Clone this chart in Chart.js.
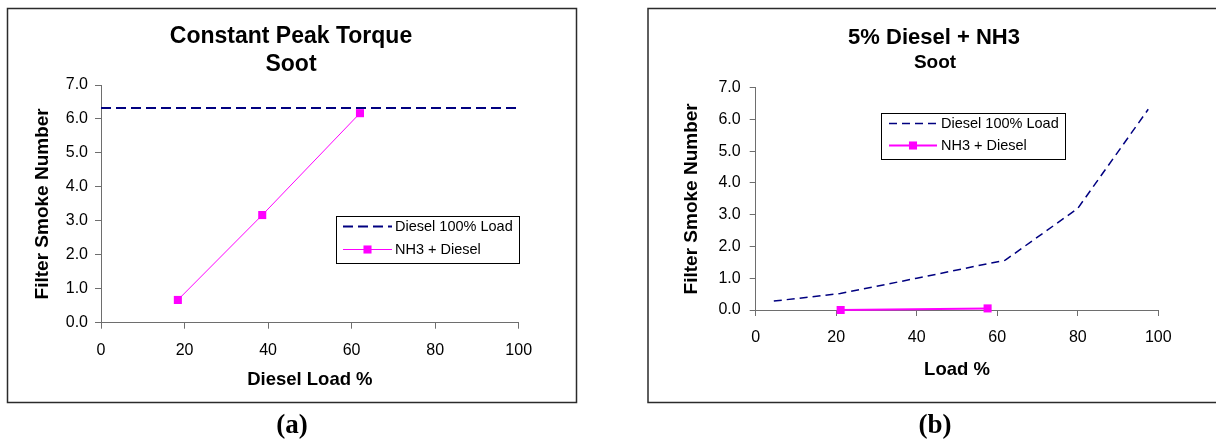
<!DOCTYPE html>
<html>
<head>
<meta charset="utf-8">
<script src="https://cdn.jsdelivr.net/npm/chart.js@4/dist/chart.umd.min.js"></script>
<style>
  html, body { margin: 0; padding: 0; background: #fff; }
  #wrap { position: relative; width: 1216px; height: 442px; overflow: hidden; background: #fff; }
  canvas { position: absolute; top: 0; }
  #cA { left: 0; }
  #cB { left: 600px; }
  .tag { position: absolute; width: 100px; text-align: center; top: 409px; line-height: 30px;
         font: bold 27px "Liberation Serif", "Times New Roman", serif; color: #000; }
</style>
</head>
<body>
<div id="wrap">
  <canvas id="cA" width="600" height="442"></canvas>
  <canvas id="cB" width="616" height="442"></canvas>
  <div class="tag" style="left:242px">(a)</div>
  <div class="tag" style="left:885px">(b)</div>
</div>
<script>
// ---- data ----
const seriesNames = ['Diesel 100% Load', 'NH3 + Diesel'];

// (a) constant peak torque
const dieselRefLoadA = [0, 100];
const dieselRefSootA = [6.32, 6.32];
const nh3LoadA = [18.4, 38.6, 62.0];
const nh3SootA = [0.67, 3.17, 6.17];

// (b) 5% diesel + NH3
const dieselLoadB = [4.5, 21, 40, 62, 80, 97.5];
const dieselSootB = [0.28, 0.52, 1.0, 1.57, 3.2, 6.32];
const nh3LoadB = [21.1, 57.6];
const nh3SootB = [0.0, 0.05];

// axis ticks
const xTicks = [0, 20, 40, 60, 80, 100];
const yTicks = [0, 1, 2, 3, 4, 5, 6, 7];

const FONT = '"Liberation Sans", Arial, Helvetica, sans-serif';
const AXIS = '#6e6e6e';
const NAVY = '#000080';
const MAGENTA = '#FF00FF';

const pts = (xs, ys) => xs.map((x, i) => ({ x, y: ys[i] }));

// frame, titles and boxed legend for each panel
const panelDecor = {
  id: 'panelDecor',
  beforeDraw(chart, args, o) {
    const ctx = chart.ctx;
    ctx.save();
    ctx.fillStyle = '#fff';
    ctx.fillRect(0, 0, chart.width, chart.height);
    ctx.strokeStyle = '#2b2b2b';
    ctx.lineWidth = 1.5;
    ctx.strokeRect(o.frame[0], o.frame[1], o.frame[2], o.frame[3]);
    ctx.fillStyle = '#000';
    ctx.textAlign = 'center';
    ctx.textBaseline = 'alphabetic';
    o.title.forEach(t => {
      ctx.font = `bold ${t.size}px ${FONT}`;
      ctx.fillText(t.text, t.x, t.y);
    });
    ctx.restore();
  },
  afterDraw(chart, args, o) {
    const ctx = chart.ctx;
    const L = o.legend;
    ctx.save();
    ctx.fillStyle = '#fff';
    ctx.fillRect(L.x, L.y, L.w, L.h);
    ctx.strokeStyle = '#000';
    ctx.lineWidth = 1;
    ctx.strokeRect(L.x + 0.5, L.y + 0.5, L.w, L.h);
    chart.data.datasets.forEach((ds, i) => {
      const cy = L.y + L.rows[i];
      const x0 = L.x + L.lineX0, x1 = L.x + L.lineX1;
      ctx.save();
      ctx.strokeStyle = ds.borderColor;
      ctx.lineWidth = ds.borderWidth;
      ctx.setLineDash(ds.borderDash || []);
      ctx.beginPath();
      ctx.moveTo(x0, cy);
      ctx.lineTo(x1, cy);
      ctx.stroke();
      ctx.restore();
      if (ds.pointRadius > 0) {
        const side = ds.pointRadius * Math.SQRT2;
        ctx.fillStyle = ds.pointBackgroundColor;
        ctx.fillRect((x0 + x1) / 2 - side / 2, cy - side / 2, side, side);
      }
      ctx.fillStyle = '#000';
      ctx.font = `14.5px ${FONT}`;
      ctx.textAlign = 'left';
      ctx.textBaseline = 'middle';
      ctx.fillText(ds.label, L.x + L.textX, cy);
    });
    ctx.restore();
  }
};

function makePanel(canvasId, datasets, g) {
  return new Chart(document.getElementById(canvasId), {
    type: 'line',
    data: { datasets },
    plugins: [panelDecor],
    options: {
      responsive: false,
      animation: false,
      devicePixelRatio: 1,
      events: [],
      layout: { padding: g.pad },
      plugins: {
        legend: { display: false },
        tooltip: { enabled: false },
        panelDecor: { frame: g.frame, title: g.title, legend: g.legend }
      },
      scales: {
        x: {
          type: 'linear', min: 0, max: 100,
          afterBuildTicks: s => { s.ticks = xTicks.map(v => ({ value: v })); },
          afterFit: s => { s.height = g.xH; },
          grid: { drawOnChartArea: false, drawTicks: true, tickLength: 6, color: AXIS, lineWidth: 1 },
          border: { display: true, color: AXIS, width: 1 },
          ticks: { font: { family: FONT, size: 16 }, color: '#000', padding: 12, maxRotation: 0, autoSkip: false },
          title: { display: true, text: g.xTitle, color: '#000',
                   font: { family: FONT, size: 18.5, weight: 'bold' }, padding: { top: 0, bottom: 5 } }
        },
        y: {
          type: 'linear', min: 0, max: 7,
          afterBuildTicks: s => { s.ticks = yTicks.map(v => ({ value: v })); },
          afterFit: s => { s.width = g.yW; },
          grid: { drawOnChartArea: false, drawTicks: true, tickLength: 6, color: AXIS, lineWidth: 1 },
          border: { display: true, color: AXIS, width: 1 },
          ticks: { font: { family: FONT, size: 16 }, color: '#000', padding: g.yPad,
                   callback: v => Number(v).toFixed(1) },
          title: { display: true, text: 'Filter Smoke Number', color: '#000',
                   font: { family: FONT, size: 19, weight: 'bold' }, padding: { top: 7, bottom: 0 } }
        }
      }
    }
  });
}

// (a)
makePanel('cA', [
  { label: seriesNames[0], data: pts(dieselRefLoadA, dieselRefSootA),
    borderColor: NAVY, borderWidth: 2, borderDash: [10, 5], pointRadius: 0, tension: 0, clip: false },
  { label: seriesNames[1], data: pts(nh3LoadA, nh3SootA),
    borderColor: MAGENTA, borderWidth: 1, pointStyle: 'rect', pointRadius: 5.7,
    pointBackgroundColor: MAGENTA, pointBorderWidth: 0, tension: 0, clip: false }
], {
  pad: { left: 24.1, top: 85, right: 81.3, bottom: 45.9 },
  yW: 76.9, xH: 73.4, yPad: 7,
  xTitle: 'Diesel Load %',
  frame: [7.5, 8.5, 569, 394],
  title: [
    { text: 'Constant Peak Torque', size: 23, x: 291, y: 43.3 },
    { text: 'Soot', size: 23, x: 291, y: 70.7 }
  ],
  legend: { x: 336, y: 216, w: 183, h: 47, rows: [10.5, 33.5], lineX0: 7, lineX1: 56, textX: 59 }
});

// (b)
makePanel('cB', [
  { label: seriesNames[0], data: pts(dieselLoadB, dieselSootB),
    borderColor: NAVY, borderWidth: 1.5, borderDash: [8, 5], pointRadius: 0, tension: 0, clip: false },
  { label: seriesNames[1], data: pts(nh3LoadB, nh3SootB),
    borderColor: MAGENTA, borderWidth: 2, pointStyle: 'rect', pointRadius: 5.7,
    pointBackgroundColor: MAGENTA, pointBorderWidth: 0, tension: 0, clip: false }
], {
  pad: { left: 73.6, top: 87.7, right: 57.7, bottom: 55.9 },
  yW: 82.1, xH: 76.1, yPad: 9,
  xTitle: 'Load %',
  frame: [48, 8.5, 620, 394],
  title: [
    { text: '5% Diesel + NH3', size: 22, x: 334, y: 44 },
    { text: 'Soot', size: 19, x: 335, y: 68.3 }
  ],
  legend: { x: 281, y: 113, w: 184, h: 46, rows: [10.5, 32.5], lineX0: 8, lineX1: 56, textX: 60 }
});
</script>
</body>
</html>
